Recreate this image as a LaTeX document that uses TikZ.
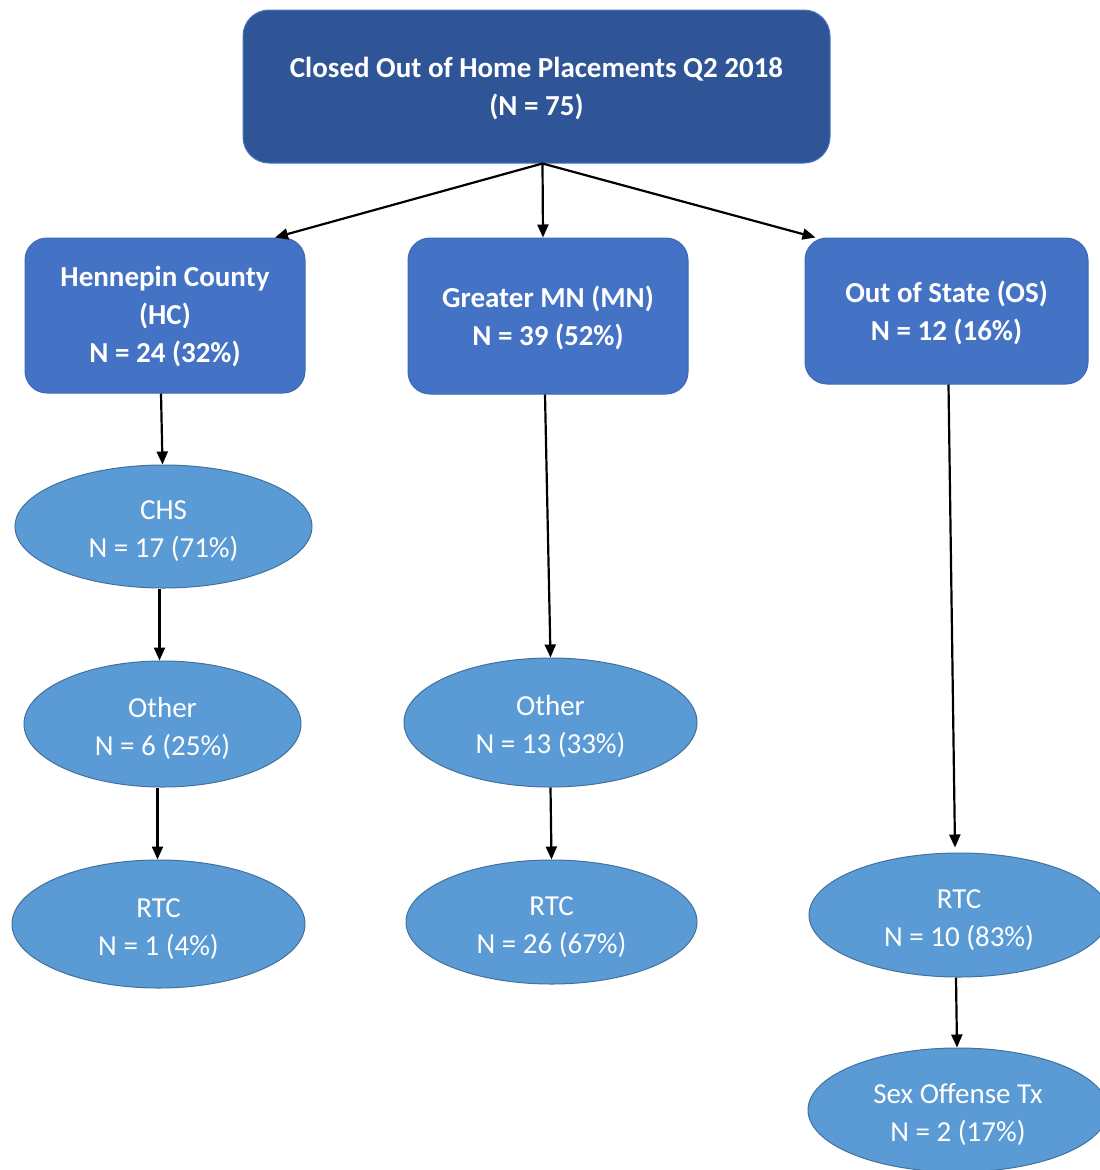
\documentclass[tikz,border=0pt]{standalone}
\usepackage{fontspec}
\setmainfont{Carlito}
\usetikzlibrary{shapes.geometric,arrows.meta}
\definecolor{topfill}{HTML}{2F5597}
\definecolor{topline}{HTML}{4A76C0}
\definecolor{boxfill}{HTML}{4472C4}
\definecolor{boxline}{HTML}{3D68B5}
\definecolor{ellfill}{HTML}{5B9BD5}
\definecolor{ellline}{HTML}{41719C}
\begin{document}
\begin{tikzpicture}[x=1pt,y=-1pt,
  topbox/.style={rectangle, rounded corners=26pt, fill=topfill, draw=topline, line width=1pt,
    text=white, font=\bfseries\fontsize{29}{38}\selectfont, align=center, inner sep=0pt,
    minimum width=587pt, minimum height=153pt, text height=63pt, text depth=6pt},
  catbox/.style={rectangle, rounded corners=22pt, fill=boxfill, draw=boxline, line width=1pt,
    text=white, font=\bfseries\fontsize{29}{38}\selectfont, align=center, inner sep=0pt,
    minimum width=280pt, text height=64pt, text depth=6pt},
  oval/.style={ellipse, fill=ellfill, draw=ellline, line width=1pt, text=white,
    font=\fontsize{29}{38}\selectfont, align=center, inner sep=0pt,
    text height=68pt, text depth=6pt},
  link/.style={-{Triangle[length=13pt,width=11pt]}, line width=2.2pt, black}
]
\useasboundingbox (0,0) rectangle (1100,1170);
\node[topbox] (top) at (536.5,86.5) {Closed Out of Home Placements Q2 2018\\(N = 75)};
\node[catbox, minimum height=155pt, text height=99pt] (hc) at (165,315.5) {Hennepin County\\(HC)\\N = 24 (32\%)};
\node[catbox, minimum height=156pt] (mn) at (548,316) {Greater MN (MN)\\N = 39 (52\%)};
\node[catbox, minimum width=283pt, minimum height=146pt] (os) at (946.5,311) {Out of State (OS)\\N = 12 (16\%)};
\node[oval, minimum width=297pt, minimum height=123pt] (chs) at (163.5,526.5) {CHS\\N = 17 (71\%)};
\node[oval, minimum width=277pt, minimum height=126pt] (hcother) at (162.5,724) {Other\\N = 6 (25\%)};
\node[oval, minimum width=293pt, minimum height=128pt] (hcrtc) at (158.5,924) {RTC\\N = 1 (4\%)};
\node[oval, minimum width=293pt, minimum height=129pt] (mnother) at (550.5,722.5) {Other\\N = 13 (33\%)};
\node[oval, minimum width=291pt, minimum height=124pt] (mnrtc) at (551.5,922) {RTC\\N = 26 (67\%)};
\node[oval, minimum width=300pt, minimum height=124pt] (osrtc) at (959,915) {RTC\\N = 10 (83\%)};
\node[oval, minimum width=300pt, minimum height=124pt] (sex) at (958,1110) {Sex Offense Tx\\N = 2 (17\%)};
\coordinate (topout) at ([xshift=6pt]top.south);
\draw[link] (topout) -- ([xshift=110pt]hc.north);
\draw[link] (topout) -- ([xshift=-5pt]mn.north);
\draw[link] (topout) -- ([xshift=-131pt]os.north);
\draw[link] ([xshift=-4pt]hc.south) -- ([xshift=-1pt]chs.north);
\draw[link] ([xshift=-4pt]chs.south) -- ([xshift=-3pt]hcother.north);
\draw[link] ([xshift=-5pt]hcother.south) -- ([xshift=-1pt]hcrtc.north);
\draw[link] ([xshift=-3pt]mn.south) -- (mnother.north);
\draw[link] (mnother.south) -- (mnrtc.north);
\draw[link] ([xshift=2pt]os.south) -- ([xshift=-4pt,yshift=5pt]osrtc.north);
\draw[link] ([xshift=-3pt]osrtc.south) -- ([xshift=-1pt]sex.north);
\end{tikzpicture}
\end{document}
